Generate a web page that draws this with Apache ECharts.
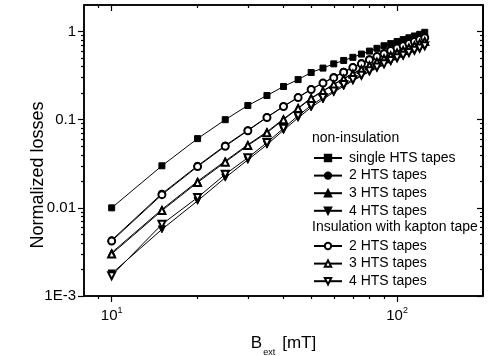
<!DOCTYPE html>
<html><head><meta charset="utf-8">
<script src="https://cdn.jsdelivr.net/npm/echarts@6/dist/echarts.min.js"></script>
<style>html,body{margin:0;padding:0;background:#fff;overflow:hidden}#c{width:488px;height:356px}</style>
</head><body><div id="c"></div><script>
// Data
const fieldB = [10,15,20,25,30,35,40,45,50,55,60,65,70,75,80,85,90,95,100,105,110,115,120,125];
const singleNon = [0.010,0.030,0.061,0.100,0.145,0.188,0.238,0.285,0.343,0.385,0.43,0.47,0.51,0.555,0.60,0.645,0.69,0.73,0.77,0.81,0.85,0.89,0.93,0.98];
const twoNon   = [0.0043,0.0145,0.030,0.051,0.076,0.107,0.142,0.180,0.222,0.262,0.305,0.35,0.395,0.44,0.485,0.525,0.57,0.615,0.655,0.695,0.735,0.775,0.815,0.86];
const threeNon = [0.0031,0.0096,0.020,0.034,0.052,0.073,0.102,0.136,0.176,0.213,0.253,0.294,0.334,0.375,0.415,0.455,0.495,0.535,0.575,0.615,0.655,0.695,0.735,0.775];
const fourNon  = [0.0018,0.0057,0.012,0.022,0.035,0.052,0.076,0.105,0.138,0.170,0.205,0.24,0.277,0.313,0.35,0.387,0.423,0.46,0.495,0.53,0.57,0.605,0.64,0.68];
const twoIns   = [0.0042,0.0141,0.0294,0.050,0.075,0.106,0.141,0.178,0.22,0.26,0.30,0.345,0.39,0.43,0.48,0.52,0.56,0.61,0.65,0.69,0.73,0.77,0.81,0.85];
const threeIns = [0.0030,0.0093,0.0194,0.033,0.051,0.071,0.100,0.134,0.174,0.21,0.25,0.29,0.33,0.37,0.41,0.45,0.49,0.53,0.57,0.61,0.65,0.69,0.73,0.77];
const fourIns  = [0.0017,0.0065,0.0131,0.024,0.037,0.055,0.080,0.111,0.145,0.178,0.212,0.25,0.285,0.32,0.36,0.395,0.43,0.47,0.505,0.54,0.58,0.615,0.65,0.69];
const xTickValues = [10,100];
const xTickLabels = ['1','2'];   // exponents of 10
const yTickValues = [0.001,0.01,0.1,1];
const yTickLabels = ['1E-3','0.01','0.1','1'];
const xName = 'B';
const xNameSub = 'ext';
const xUnit = '[mT]';
const yName = 'Normalized losses';
const group1Title = 'non-insulation';
const group2Title = 'Insulation with kapton tape';

const FONT = 'Liberation Sans, Arial, sans-serif';
const X_MIN = 8, X_MAX = 200, Y_MIN = 0.001, Y_MAX = 2;
const LW = 1.5;
function minorBetween(lo, hi, decades) {
  const out = [];
  for (let d = 0; d < decades.length; d++) {
    for (let k = 2; k <= 9; k++) {
      const v = k * decades[d];
      if (v > lo && v < hi) out.push(v);
    }
  }
  return out;
}
const lg = v => Math.log10(v);
const xMinor = minorBetween(X_MIN, X_MAX, [1,10,100]);
const yMinor = minorBetween(Y_MIN, Y_MAX, [0.001,0.01,0.1,1]);
function nearestIdx(arr, v) {
  let b = 0; for (let i = 1; i < arr.length; i++) if (Math.abs(lg(arr[i]) - lg(v)) < Math.abs(lg(arr[b]) - lg(v))) b = i; return b;
}
const axisLineStyle = { show: true, onZero: false, lineStyle: { color: '#000', width: LW } };

// Main (log) axes carrying the data and labels
const mainX = {
  type: 'log', logBase: 10, min: X_MIN, max: X_MAX, position: 'bottom',
  axisLine: axisLineStyle, splitLine: { show: false }, axisTick: { show: false },
  axisLabel: {
    show: true, customValues: xTickValues, margin: 10, fontFamily: FONT, color: '#000',
    formatter: v => '{n|10}{p|' + xTickLabels[nearestIdx(xTickValues, v)] + '}',
    rich: { n: { fontSize: 15, fontFamily: FONT, color: '#000', lineHeight: 17, verticalAlign: 'bottom' },
            p: { fontSize: 9, fontFamily: FONT, color: '#000', lineHeight: 10, verticalAlign: 'top' } }
  },
  name: '{b|' + xName + '}{s|' + xNameSub + '}{u|' + xUnit + '}',
  nameLocation: 'middle', nameGap: 39,
  nameTextStyle: { rich: {
    b: { fontSize: 17, fontFamily: FONT, color: '#000', lineHeight: 18, verticalAlign: 'top' },
    s: { fontSize: 9, fontFamily: FONT, color: '#000', lineHeight: 9, verticalAlign: 'top', padding: [13, 7, 0, 1] },
    u: { fontSize: 17, fontFamily: FONT, color: '#000', lineHeight: 18, verticalAlign: 'top' }
  } }
};
const mainY = {
  type: 'log', logBase: 10, min: Y_MIN, max: Y_MAX, position: 'left',
  axisLine: axisLineStyle, splitLine: { show: false }, axisTick: { show: false },
  axisLabel: {
    show: true, customValues: yTickValues, margin: 8, fontFamily: FONT, fontSize: 15, color: '#000',
    formatter: v => yTickLabels[nearestIdx(yTickValues, v)]
  }
};
// Decorative tick axes in log10 space
function tickAx(lo, hi, pos, inside, ticks, len, showLine) {
  return {
    type: 'value', min: lg(lo), max: lg(hi), position: pos,
    axisLine: showLine ? axisLineStyle : { show: false, onZero: false },
    splitLine: { show: false }, axisLabel: { show: false },
    axisTick: { show: true, inside: inside, length: len, customValues: ticks.map(lg), lineStyle: { color: '#000', width: 1.2 } }
  };
}
const xAxes = [
  mainX,
  tickAx(X_MIN, X_MAX, 'top', true, xTickValues, 6, true),
  tickAx(X_MIN, X_MAX, 'top', true, xMinor, 3, false),
  tickAx(X_MIN, X_MAX, 'bottom', false, xTickValues, 6, false),
  tickAx(X_MIN, X_MAX, 'bottom', false, xMinor, 3, false)
];
const yAxes = [
  mainY,
  tickAx(Y_MIN, Y_MAX, 'right', true, yTickValues, 6, true),
  tickAx(Y_MIN, Y_MAX, 'right', true, yMinor, 3, false),
  tickAx(Y_MIN, Y_MAX, 'left', false, yTickValues, 6, false),
  tickAx(Y_MIN, Y_MAX, 'left', false, yMinor, 3, false)
];

function mk(name, arr, symbol, rotate, z) {
  return {
    type: 'line', name: name, xAxisIndex: 0, yAxisIndex: 0,
    data: fieldB.map((x, i) => [x, arr[i]]),
    symbol: symbol, symbolRotate: rotate, symbolSize: symbol.indexOf('rect') >= 0 ? 6 : 7,
    showAllSymbol: true, animation: false, z: z, clip: false,
    lineStyle: { color: '#000', width: 1 },
    itemStyle: { color: '#000', borderColor: '#000', borderWidth: 1 }
  };
}
const series = [
  mk('single HTS tapes (a)', singleNon, 'rect', 0, 2),
  mk('2 HTS tapes (a)', twoNon, 'circle', 0, 2),
  mk('3 HTS tapes (a)', threeNon, 'triangle', 0, 2),
  mk('4 HTS tapes (a)', fourNon, 'triangle', 180, 2),
  mk('2 HTS tapes (b)', twoIns, 'emptyCircle', 0, 3),
  mk('3 HTS tapes (b)', threeIns, 'emptyTriangle', 0, 3),
  mk('4 HTS tapes (b)', fourIns, 'emptyTriangle', 180, 3)
];
const legendCommon = {
  orient: 'vertical', left: 313, itemWidth: 28, itemHeight: 8, itemGap: 3.6, padding: 0,
  selectedMode: false,
  textStyle: { fontSize: 14, fontFamily: FONT, color: '#000', lineHeight: 14, padding: [0, 0, 0, 2] },
  formatter: n => n.replace(/ \([ab]\)$/, '')
};
const chart = echarts.init(document.getElementById('c'), null, { renderer: 'canvas', width: 488, height: 356 });
chart.setOption({
  backgroundColor: '#fff',
  animation: false,
  grid: { left: 84, right: 5, top: 5, bottom: 60, outerBoundsMode: 'none',
          show: true, borderColor: '#000', borderWidth: LW },
  xAxis: xAxes,
  yAxis: yAxes,
  legend: [
    Object.assign({}, legendCommon, { top: 151, data: ['single HTS tapes (a)', '2 HTS tapes (a)', '3 HTS tapes (a)', '4 HTS tapes (a)'] }),
    Object.assign({}, legendCommon, { top: 239, data: ['2 HTS tapes (b)', '3 HTS tapes (b)', '4 HTS tapes (b)'] })
  ],
  graphic: [
    { id: 'g1', type: 'text', left: 312, top: 131, style: { text: group1Title, fontSize: 14, fontFamily: FONT, fill: '#000' } },
    { id: 'g2', type: 'text', left: 312, top: 220, style: { text: group2Title, fontSize: 14, fontFamily: FONT, fill: '#000' } },
    { id: 'yn', type: 'text', x: 38, y: 175, rotation: Math.PI / 2,
      style: { text: yName, fontSize: 18, fontFamily: FONT, fill: '#000', align: 'center', verticalAlign: 'middle' } }
  ],
  series: series
});
// Right frame edge, placed through the library's own scales
const edgeX = chart.convertToPixel({ xAxisIndex: 0 }, X_MAX);
const edgeTop = chart.convertToPixel({ yAxisIndex: 0 }, Y_MAX);
const edgeBottom = chart.convertToPixel({ yAxisIndex: 0 }, Y_MIN);
chart.setOption({
  graphic: [{ id: 'rightEdge', type: 'line', z: 100,
    shape: { x1: edgeX, y1: edgeTop, x2: edgeX, y2: edgeBottom },
    style: { stroke: '#000', lineWidth: LW } }]
});
</script></body></html>
